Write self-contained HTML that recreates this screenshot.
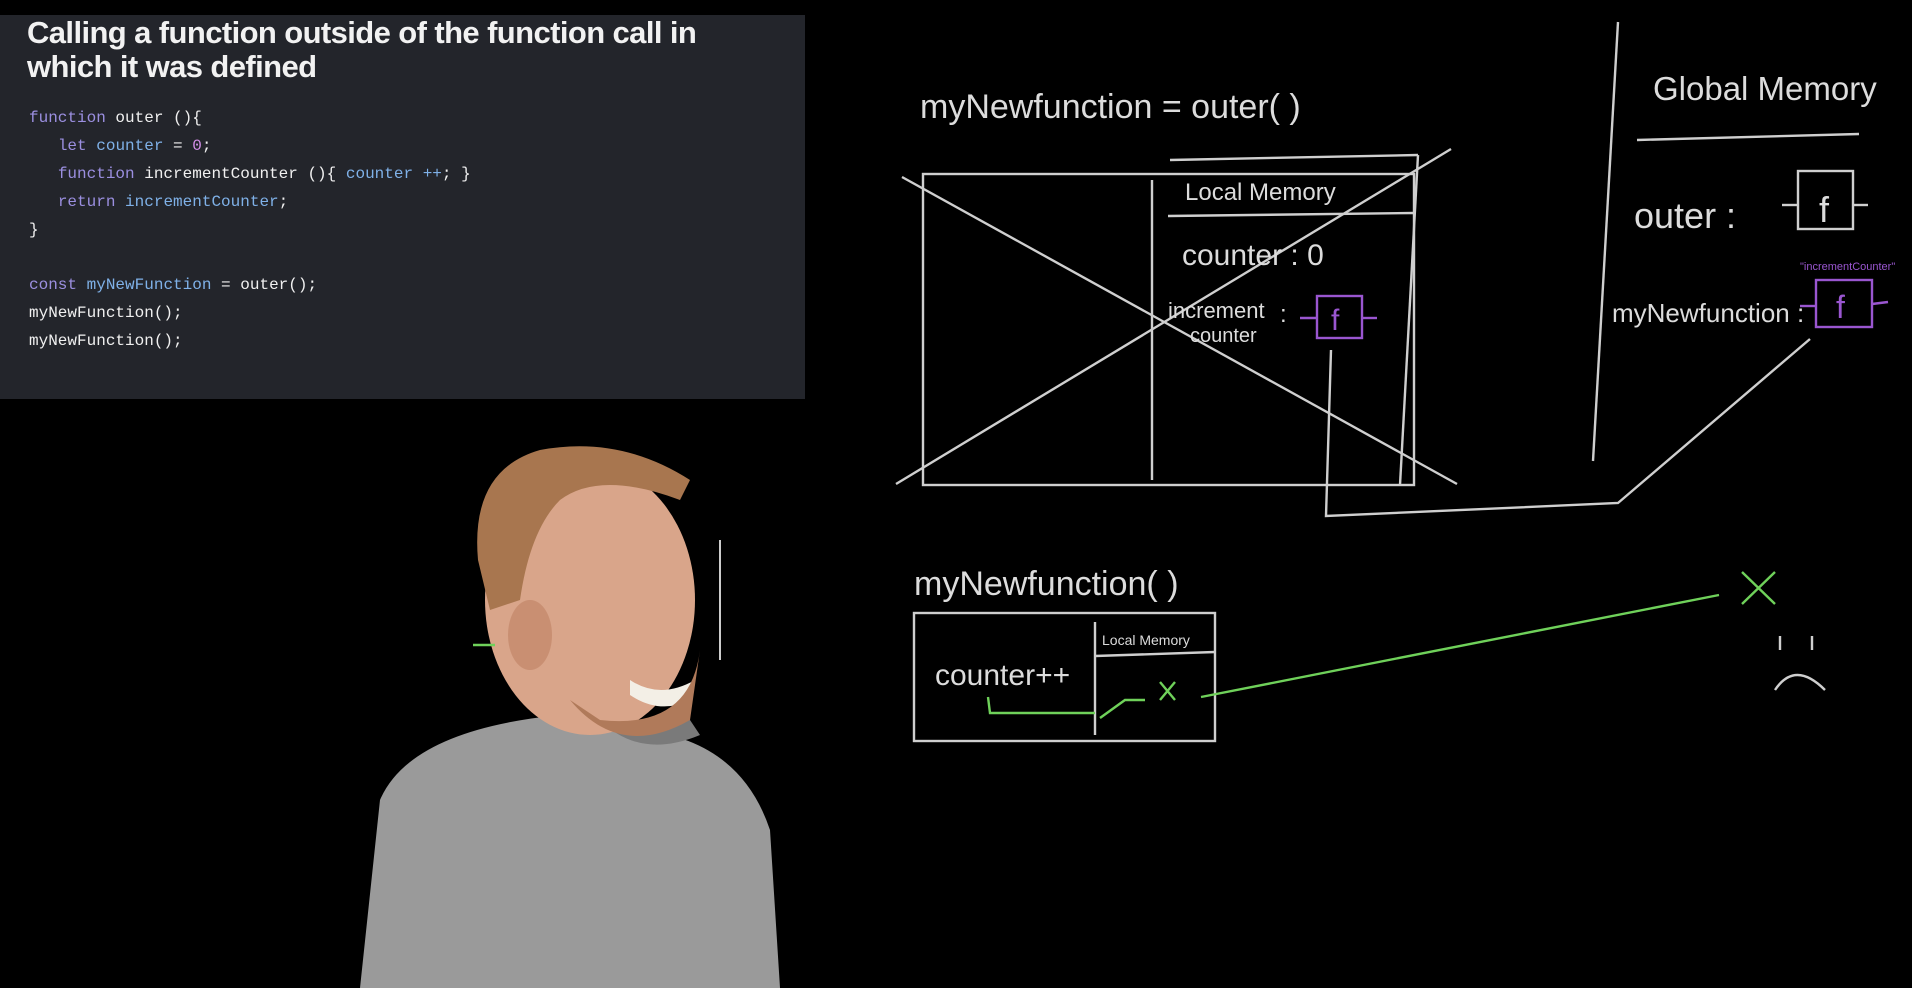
<!DOCTYPE html>
<html><head><meta charset="utf-8"><style>
html,body{margin:0;padding:0;background:#000;width:1912px;height:988px;overflow:hidden;position:relative;font-family:"Liberation Sans",sans-serif}
#panel{position:absolute;left:0;top:15px;width:805px;height:384px;background:#23252b}
#panel h1{position:absolute;left:27px;top:1px;margin:0;color:#f2f2f2;font-size:31px;font-weight:bold;line-height:34px;letter-spacing:-0.6px;width:700px}
.code{position:absolute;left:29px;font-family:"Liberation Mono",monospace;font-size:16px;color:#f0f0f0;white-space:pre}
.k{color:#9b8fe0}.v{color:#7fb1e8}.n{color:#d48ee8}
svg{position:absolute;left:0;top:0}
</style></head><body>
<div id="panel">
<h1>Calling a function outside of the function call in which it was defined</h1>
<div class="code" style="top:94px"><span class="k">function</span> outer (){</div>
<div class="code" style="top:122px">   <span class="k">let</span> <span class="v">counter</span> = <span class="n">0</span>;</div>
<div class="code" style="top:150px">   <span class="k">function</span> incrementCounter (){ <span class="v">counter</span> <span class="v">++</span>; }</div>
<div class="code" style="top:178px">   <span class="k">return</span> <span class="v">incrementCounter</span>;</div>
<div class="code" style="top:206px">}</div>
<div class="code" style="top:261px"><span class="k">const</span> <span class="v">myNewFunction</span> = outer();</div>
<div class="code" style="top:289px">myNewFunction();</div>
<div class="code" style="top:317px">myNewFunction();</div>
</div>
<svg width="1912" height="988" viewBox="0 0 1912 988">
<path d="M360 988 L380 800 Q410 730 560 715 L640 730 Q740 740 770 830 L780 988 Z" fill="#9a9a9a"/>
<path d="M600 720 Q640 760 700 735 L690 720 Z" fill="#7a7a7a"/>
<ellipse cx="590" cy="600" rx="105" ry="135" fill="#d9a58a"/>
<ellipse cx="530" cy="635" rx="22" ry="35" fill="#c98f72"/>
<path d="M478 560 Q470 470 540 450 Q620 435 690 480 L680 500 Q600 470 560 500 Q530 530 520 600 L490 610 Z" fill="#a8764f"/>
<path d="M630 680 Q660 700 695 680 L690 700 Q660 715 630 695 Z" fill="#f3efe6"/>
<path d="M570 700 Q620 760 690 720 L700 650 Q690 730 600 720 Z" fill="#b07a5a"/>
<line x1="720" y1="540" x2="720" y2="660" stroke="#ccc" stroke-width="2"/>
<g fill="none" stroke="#cfcfcf" stroke-width="2.4">
<rect x="923" y="174" width="491" height="311"/>
<line x1="1152" y1="180" x2="1152" y2="480"/>
<line x1="1168" y1="216" x2="1414" y2="213"/>
<line x1="1170" y1="160" x2="1418" y2="155"/>
<line x1="1418" y1="155" x2="1400" y2="485"/>
<line x1="902" y1="177" x2="1457" y2="484"/>
<line x1="896" y1="484" x2="1451" y2="149"/>
<polyline points="1331,350 1326,516 1618,503 1810,339"/>
<line x1="1618" y1="22" x2="1593" y2="461"/>
<line x1="1637" y1="140" x2="1859" y2="134"/>
<rect x="1798" y="171" width="55" height="58"/>
<line x1="1782" y1="205" x2="1798" y2="205"/><line x1="1853" y1="205" x2="1868" y2="205"/>
<rect x="914" y="613" width="301" height="128"/>
<line x1="1095" y1="622" x2="1095" y2="735"/>
<line x1="1095" y1="656" x2="1215" y2="652"/>
<path d="M1780 636 l0 14 M1812 636 l0 14 M1775 690 Q1795 660 1825 690"/>
</g>
<g fill="none" stroke="#9a56d0" stroke-width="2.4">
<rect x="1317" y="296" width="45" height="42"/><line x1="1300" y1="318" x2="1317" y2="318"/><line x1="1362" y1="318" x2="1377" y2="318"/>
<rect x="1816" y="280" width="56" height="47"/><line x1="1800" y1="306" x2="1816" y2="306"/><line x1="1872" y1="304" x2="1888" y2="302"/>
</g>
<g fill="none" stroke="#6fd15a" stroke-width="2.4">
<polyline points="988,697 990,713 1095,713"/>
<polyline points="1100,718 1125,700 1145,700"/>
<line x1="1160" y1="682" x2="1175" y2="700"/><line x1="1175" y1="682" x2="1160" y2="700"/>
<line x1="1201" y1="697" x2="1719" y2="595"/>
<line x1="1742" y1="572" x2="1775" y2="604"/><line x1="1775" y1="572" x2="1742" y2="604"/>
<line x1="473" y1="645" x2="495" y2="645"/>
</g>
<g fill="#dcdcdc" font-family="Liberation Sans,sans-serif">
<text x="920" y="118" font-size="34">myNewfunction  =  outer( )</text>
<text x="1185" y="200" font-size="24">Local Memory</text>
<text x="1182" y="265" font-size="30">counter :  0</text>
<text x="1168" y="318" font-size="22">increment</text>
<text x="1190" y="342" font-size="20">counter</text>
<text x="1280" y="322" font-size="24">:</text>
<text x="1653" y="100" font-size="33">Global Memory</text>
<text x="1634" y="228" font-size="36">outer  :</text>
<text x="1612" y="322" font-size="26">myNewfunction  :</text>
<text x="1819" y="222" font-size="36">f</text>
<text x="914" y="595" font-size="34">myNewfunction( )</text>
<text x="1102" y="645" font-size="14">Local Memory</text>
<text x="935" y="685" font-size="30">counter++</text>
</g>
<g fill="#9a56d0" font-family="Liberation Sans,sans-serif">
<text x="1331" y="330" font-size="30">f</text>
<text x="1836" y="318" font-size="32">f</text>
<text x="1800" y="270" font-size="11">"incrementCounter"</text>
</g>
</svg>
</body></html>
